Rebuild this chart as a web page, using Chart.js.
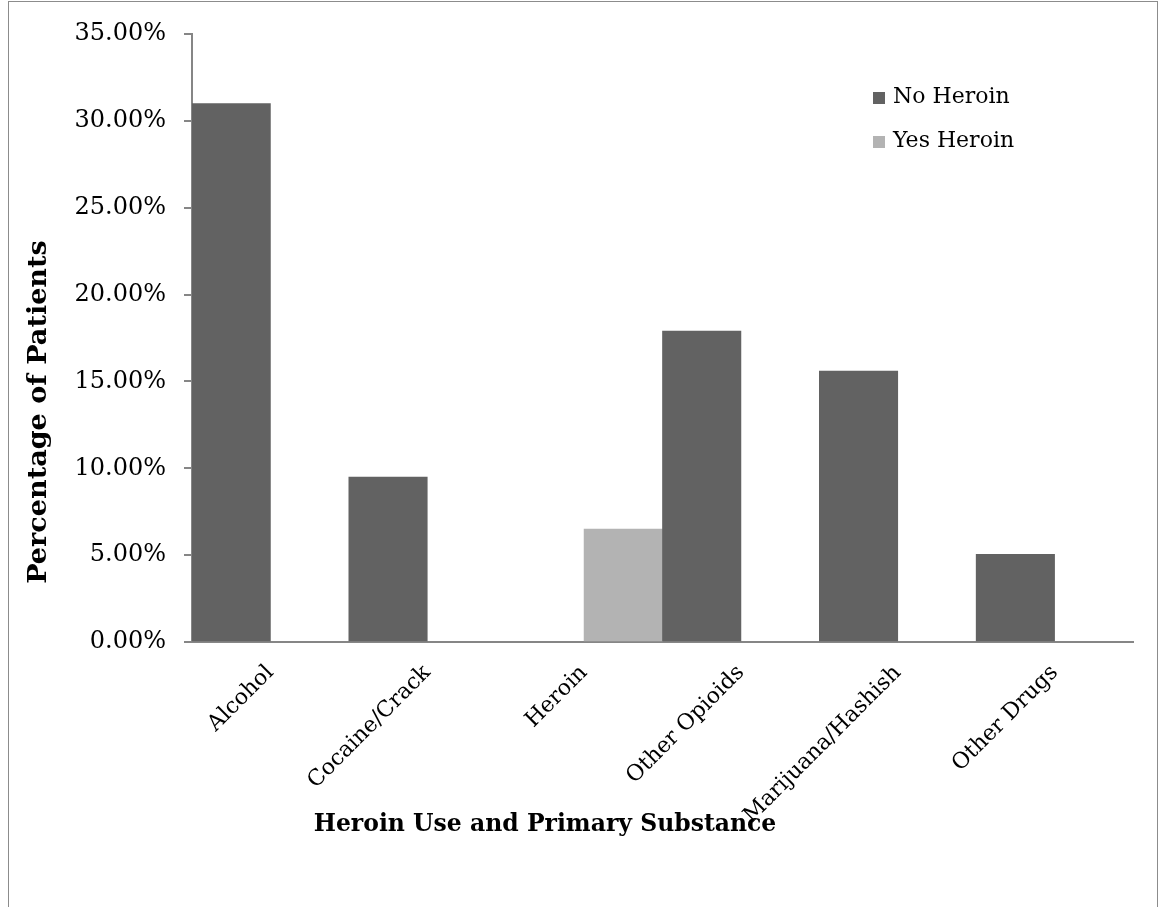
<!DOCTYPE html>
<html>
<head>
<meta charset="utf-8">
<script src="https://cdn.jsdelivr.net/npm/chart.js@4/dist/chart.umd.min.js"></script>
<style>
  html, body { margin: 0; padding: 0; background: #ffffff; }
  #wrap { position: relative; width: 1160px; height: 907px; }
  #frame {
    position: absolute; left: 8px; top: 1px; width: 1150px; height: 910px;
    border: 1px solid #8c8c8c; border-bottom: none; box-sizing: border-box;
    pointer-events: none;
  }
  canvas { position: absolute; left: 0; top: 0; }
</style>
</head>
<body>
<div id="wrap">
  <canvas id="chart" width="1160" height="907"></canvas>
  <div id="frame"></div>
</div>
<script>
// Primary substance categories on the x axis
const categories = ['Alcohol', 'Cocaine/Crack', 'Heroin', 'Other Opioids', 'Marijuana/Hashish', 'Other Drugs'];

// Share of patients (%) by heroin use
const noHeroin  = [31.0, 9.5, null, 17.9, 15.6, 5.05];
const yesHeroin = [null, null, 6.5, null, null, null];

const seriesNames = ['No Heroin', 'Yes Heroin'];

// Y axis tick values (%)
const yTicks = [0, 5, 10, 15, 20, 25, 30, 35];

const xTitle = 'Heroin Use and Primary Substance';
const yTitle = 'Percentage of Patients';

const SERIF = "'DejaVu Serif', 'Liberation Serif', serif";
const AXIS_GREY = '#868686';

// Legend and axis titles drawn at fixed spots on the canvas
const annotations = {
  id: 'annotations',
  afterDraw(chart) {
    const ctx = chart.ctx;
    ctx.save();
    ctx.font = '22px ' + SERIF;
    ctx.textBaseline = 'middle';
    ctx.textAlign = 'left';
    chart.data.datasets.forEach((ds, i) => {
      const cy = 97 + i * 44;
      ctx.fillStyle = ds.backgroundColor;
      ctx.fillRect(873, cy - 5, 12, 12);
      ctx.fillStyle = '#000000';
      ctx.fillText(ds.label, 893, cy);
    });

    ctx.font = 'bold 23.5px ' + SERIF;
    ctx.textAlign = 'center';
    ctx.fillText(xTitle, 545, 825);

    ctx.font = 'bold 26px ' + SERIF;
    ctx.translate(39, 412);
    ctx.rotate(-Math.PI / 2);
    ctx.scale(1.04, 1);
    ctx.fillText(yTitle, 0, 0);
    ctx.restore();
  }
};

new Chart(document.getElementById('chart'), {
  type: 'bar',
  data: {
    labels: categories,
    datasets: [
      { label: seriesNames[0], data: noHeroin,  backgroundColor: '#626262', borderWidth: 0 },
      { label: seriesNames[1], data: yesHeroin, backgroundColor: '#b3b3b3', borderWidth: 0 }
    ]
  },
  options: {
    responsive: false,
    animation: false,
    devicePixelRatio: 1,
    layout: { padding: { left: 0, top: 34, right: 27, bottom: 0 } },
    datasets: { bar: { categoryPercentage: 1.0, barPercentage: 1.0 } },
    plugins: { legend: { display: false }, tooltip: { enabled: false } },
    scales: {
      x: {
        grid: { display: false, drawTicks: false },
        border: { display: true, color: AXIS_GREY, width: 2 },
        ticks: {
          color: '#000000',
          font: { family: SERIF, size: 22 },
          minRotation: 45, maxRotation: 45,
          autoSkip: false,
          padding: 18
        },
        afterFit(scale) { scale.height = 265; }
      },
      y: {
        min: 0, max: 35,
        afterBuildTicks(scale) { scale.ticks = yTicks.map(v => ({ value: v })); },
        grid: { display: true, drawOnChartArea: false, drawTicks: true, tickLength: 8, color: AXIS_GREY, lineWidth: 2 },
        border: { display: true, color: AXIS_GREY, width: 2 },
        ticks: {
          color: '#000000',
          font: { family: SERIF, size: 24 },
          padding: 18,
          callback: v => v.toFixed(2) + '%'
        },
        afterFit(scale) { scale.width = 192; }
      }
    }
  },
  plugins: [annotations]
});
</script>
</body>
</html>
